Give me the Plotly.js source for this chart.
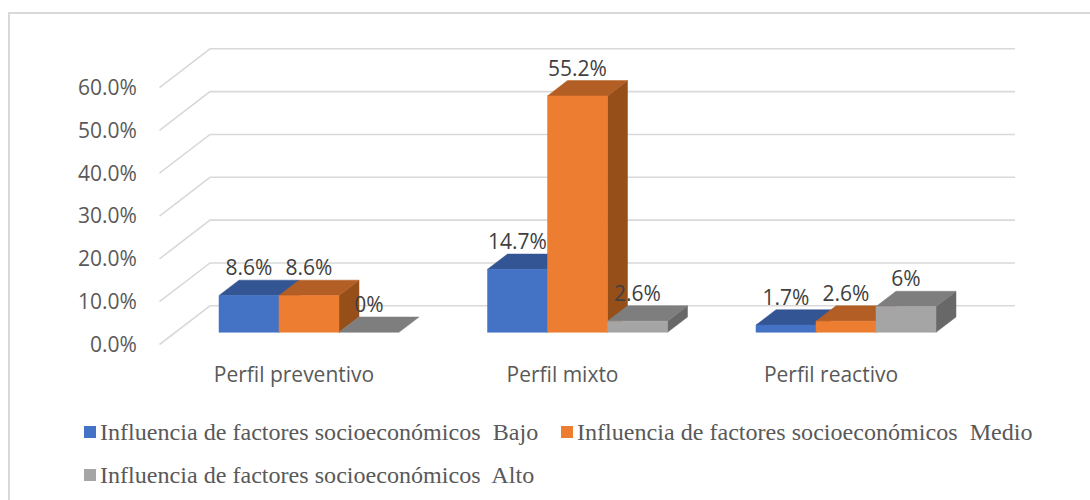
<!DOCTYPE html>
<html><head><meta charset="utf-8">
<script src="https://cdn.plot.ly/plotly-3.0.1.min.js"></script>
<style>html,body{margin:0;padding:0;background:#fff}#c{width:1090px;height:500px}</style></head>
<body><div id="c"></div>
<script>
const categories = ["Perfil preventivo", "Perfil mixto", "Perfil reactivo"];
const seriesNames = ["Influencia de factores socioeconómicos  Bajo", "Influencia de factores socioeconómicos  Medio", "Influencia de factores socioeconómicos  Alto"];
const bajo = [8.6, 14.7, 1.7];
const medio = [8.6, 55.2, 2.6];
const alto = [0, 2.6, 6];
const yTicks = [0, 10, 20, 30, 40, 50, 60];
const seriesValues = [bajo, medio, alto];
const frontColors = ["#4472C4", "#ED7D31", "#A5A5A5"];
const topColors = ["#335593", "#B25E24", "#7E7E7E"];
const sideColors = ["#2A4778", "#974F1A", "#686868"];

// projection of the Excel 3-D box, expressed in axis units
const pxPerCat = 268.5, pxPerPct = 4.283;
const L = 143, R = 60, T = 30, B = 150, W = 1090, H = 500;
const x0px = 294, y0px = 344.5;
const xr = [(L - x0px) / pxPerCat, (W - R - x0px) / pxPerCat];
const yr = [(y0px - (H - B)) / pxPerPct, (y0px - T) / pxPerPct];
const wallDx = 50.5 / pxPerCat, wallDy = 38.7 / pxPerPct;
const wallLeft = (159.5 - x0px) / pxPerCat, wallRight = (1015 - x0px) / pxPerCat;
const barW = 60 / pxPerCat, barDx = 20 / pxPerCat, barDy = 15.3 / pxPerPct;
const groupShift = 15 / pxPerCat;
const floorY = (y0px - 332.3) / pxPerPct, labelGap = 25.5 / pxPerPct;
const sans = "'Open Sans', sans-serif";

const traces = [];
// gridlines: front edge, up the side wall, along the back wall
const gx = [], gy = [];
yTicks.forEach(v => {
  gx.push(wallLeft, wallLeft + wallDx, wallRight, null);
  gy.push(v, v + wallDy, v + wallDy, null);
});
traces.push({type: "scatter", mode: "lines", x: gx, y: gy, hoverinfo: "skip", showlegend: false,
  line: {color: "#D9D9D9", width: 1.6}});

function poly(xs, ys, color, name) {
  traces.push({type: "scatter", mode: "lines", x: xs.concat(xs[0]), y: ys.concat(ys[0]), fill: "toself",
    fillcolor: color, line: {color: color, width: 0.5}, hoverinfo: "skip", showlegend: false, name: name});
}
seriesValues.forEach((vals, s) => {
  vals.forEach((v, c) => {
    const a = c + groupShift + (s - 1.5) * barW, b = a + barW, t = floorY + v;
    if (v > 0) poly([b, b + barDx, b + barDx, b], [floorY, floorY + barDy, t + barDy, t], sideColors[s], seriesNames[s]);
    poly([a, a + barDx, b + barDx, b], [t, t + barDy, t + barDy, t], topColors[s], seriesNames[s]);
    if (v > 0) poly([a, b, b, a], [floorY, floorY, t, t], frontColors[s], seriesNames[s]);
  });
});
seriesValues.forEach((vals, s) => {
  traces.push({type: "scatter", mode: "text", showlegend: false, hoverinfo: "skip",
    x: vals.map((v, c) => c + groupShift + (s - 1) * barW),
    y: vals.map(v => floorY + v + labelGap),
    text: vals.map(v => v + "%"), textposition: "middle center",
    textfont: {family: sans, size: 21, color: "#404040"}});
});

const px2x = p => (p - L) / (W - L - R);
const py2y = p => (H - B - p) / (H - T - B);
// legend (rows are spaced wider than Plotly's own legend allows)
const legendPos = [[84, 432], [561, 432], [84, 475]];
const shapes = [
  {type: "line", xref: "paper", yref: "paper", x0: px2x(8), x1: px2x(1090), y0: py2y(13), y1: py2y(13), line: {color: "#D9D9D9", width: 2}},
  {type: "line", xref: "paper", yref: "paper", x0: px2x(9), x1: px2x(9), y0: py2y(13), y1: py2y(500), line: {color: "#D9D9D9", width: 2}}
];
const annotations = [];
seriesNames.forEach((n, i) => {
  const [px, py] = legendPos[i];
  shapes.push({type: "rect", xref: "paper", yref: "paper",
    x0: px2x(px), x1: px2x(px + 12), y0: py2y(py + 6), y1: py2y(py - 6),
    fillcolor: frontColors[i], line: {width: 0}});
  annotations.push({xref: "paper", yref: "paper", x: px2x(px + 14), y: py2y(py),
    xanchor: "left", yanchor: "middle", text: n, showarrow: false,
    font: {family: "Liberation Serif, serif", size: 24.1, color: "#595959"}});
});

const layout = {
  width: W, height: H, margin: {l: L, r: R, t: T, b: B}, showlegend: false,
  paper_bgcolor: "#fff", plot_bgcolor: "rgba(0,0,0,0)", shapes, annotations,
  xaxis: {range: xr, tickmode: "array", tickvals: [0, 1, 2], ticktext: categories, showgrid: false, zeroline: false, showline: false,
    ticks: "outside", ticklen: 6, tickcolor: "rgba(0,0,0,0)", tickfont: {family: sans, size: 21, color: "#595959"}, automargin: false},
  yaxis: {range: yr, tickmode: "array", tickvals: yTicks, ticktext: yTicks.map(v => v.toFixed(1) + "%"), showgrid: false, zeroline: false, showline: false,
    ticks: "outside", ticklen: 1, tickcolor: "rgba(0,0,0,0)", tickfont: {family: sans, size: 21, color: "#595959"}, automargin: false}
};
Plotly.newPlot("c", traces, layout, {displayModeBar: false, staticPlot: true});
</script></body></html>
